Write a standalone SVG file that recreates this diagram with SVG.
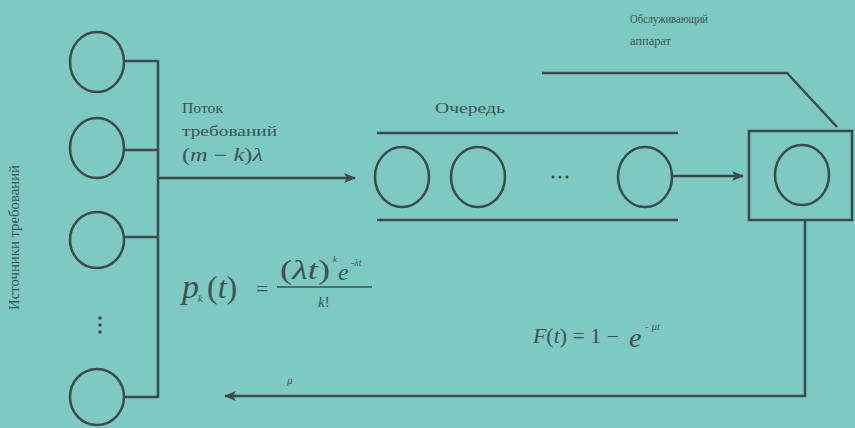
<svg xmlns="http://www.w3.org/2000/svg" width="855" height="428" viewBox="0 0 855 428">
<style>
.ln{stroke:#3b4a4a;stroke-width:2.5;fill:none}
.cr{stroke:#3b4a4a;stroke-width:2.5;fill:none}
.t{font-family:"Liberation Serif","Times New Roman",serif;fill:#3d5252}
.m{font-family:"Liberation Serif","Times New Roman",serif;font-style:italic;fill:#3d5252}
</style>
<defs>
<marker id="ah" viewBox="0 0 12 10" refX="11" refY="5" markerWidth="12" markerHeight="10" markerUnits="userSpaceOnUse" orient="auto">
<path d="M0,0 L12,5 L0,10 L3,5 Z" fill="#3b4a4a"/>
</marker>
</defs>
<rect width="855" height="428" fill="#7fc9c3"/>

<g id="sources">
<ellipse class="cr" cx="97" cy="62" rx="27" ry="30"/>
<ellipse class="cr" cx="97" cy="148" rx="27" ry="30"/>
<ellipse class="cr" cx="97" cy="240" rx="27" ry="28"/>
<g fill="#3b4a4a"><circle cx="100" cy="318" r="1.8"/><circle cx="100" cy="325" r="1.8"/><circle cx="100" cy="332" r="1.8"/></g>
<ellipse class="cr" cx="97" cy="397" rx="27" ry="28"/>
</g>

<g id="queue">
<line class="ln" x1="377" y1="133" x2="678" y2="133"/>
<line class="ln" x1="377" y1="220" x2="678" y2="220"/>
<ellipse class="cr" cx="402" cy="177" rx="27" ry="30"/>
<ellipse class="cr" cx="478" cy="177" rx="27" ry="30"/>
<g fill="#3b4a4a"><circle cx="553" cy="177" r="1.6"/><circle cx="560" cy="177" r="1.6"/><circle cx="567" cy="177" r="1.6"/></g>
<ellipse class="cr" cx="645" cy="177" rx="27" ry="30"/>
</g>

<g id="server">
<rect class="ln" x="749" y="131" width="103" height="89"/>
<ellipse class="cr" cx="802" cy="175" rx="27" ry="30"/>
<polyline class="ln" points="542,73 787,73 837,127"/>
</g>

<g id="connectors">
<line class="ln" x1="124" y1="61" x2="158" y2="61"/>
<line class="ln" x1="124" y1="150" x2="158" y2="150"/>
<line class="ln" x1="124" y1="237" x2="158" y2="237"/>
<line class="ln" x1="124" y1="397" x2="158" y2="397"/>
<line class="ln" x1="158" y1="60" x2="158" y2="398"/>
<line class="ln" x1="158" y1="178" x2="355" y2="178" marker-end="url(#ah)"/>
<line class="ln" x1="673" y1="176" x2="743" y2="176" marker-end="url(#ah)"/>
<polyline class="ln" points="805,220 805,396 225,396" marker-end="url(#ah)"/>
</g>

<g id="labels">
<text class="t" x="630" y="23" font-size="13" textLength="78" lengthAdjust="spacingAndGlyphs">Обслуживающий</text>
<text class="t" x="630" y="45" font-size="12" textLength="41" lengthAdjust="spacingAndGlyphs">аппарат</text>
<text class="t" x="435" y="113" font-size="14" textLength="70" lengthAdjust="spacingAndGlyphs">Очередь</text>
<text class="t" x="182" y="113" font-size="14" textLength="41" lengthAdjust="spacingAndGlyphs">Поток</text>
<text class="t" x="182" y="136" font-size="14" textLength="95" lengthAdjust="spacingAndGlyphs">требований</text>
<text class="m" x="182" y="161" font-size="18" textLength="81" lengthAdjust="spacingAndGlyphs"><tspan font-style="normal">(</tspan>m<tspan font-style="normal"> − </tspan>k<tspan font-style="normal">)</tspan>λ</text>
<text class="t" transform="translate(19,310) rotate(-90)" font-size="14" textLength="145" lengthAdjust="spacingAndGlyphs">Источники требований</text>

<text class="m" x="182" y="298" font-size="34">p</text>
<text class="m" x="198" y="302" font-size="10">k</text>
<text class="m" x="207" y="298" font-size="32"><tspan font-style="normal">(</tspan>t<tspan font-style="normal">)</tspan></text>
<text class="t" x="256" y="296" font-size="22">=</text>
<line x1="277" y1="287" x2="372" y2="287" stroke="#3d5252" stroke-width="1.5"/>
<text class="m" x="280" y="279" font-size="27" textLength="50" lengthAdjust="spacingAndGlyphs"><tspan font-style="normal">(</tspan>λt<tspan font-style="normal">)</tspan></text>
<text class="m" x="333" y="262" font-size="9">k</text>
<text class="m" x="338" y="280" font-size="24">e</text>
<text class="m" x="351" y="266" font-size="10"><tspan font-style="normal">-</tspan>λt</text>
<text class="m" x="318" y="307" font-size="15">k<tspan font-style="normal">!</tspan></text>

<text class="m" x="533" y="343" font-size="20" textLength="86" lengthAdjust="spacingAndGlyphs">F<tspan font-style="normal">(</tspan>t<tspan font-style="normal">) = 1 − </tspan></text>
<text class="m" x="629" y="347" font-size="28">e</text>
<text class="m" x="645" y="330" font-size="11"><tspan font-style="normal">- </tspan>μt</text>

<text class="m" x="287" y="384" font-size="11">μ</text>
</g>
</svg>
